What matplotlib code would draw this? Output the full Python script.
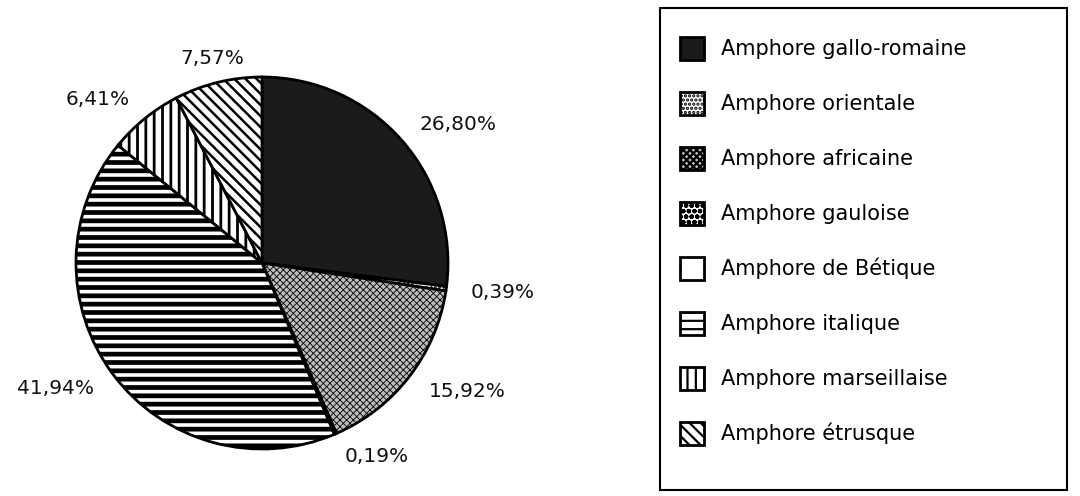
import numpy as np
import matplotlib
matplotlib.use("Agg")
import matplotlib.pyplot as plt
from matplotlib.patches import Rectangle

# amphora types, clockwise from 12 o'clock
names = ["Amphore gallo-romaine", "Amphore orientale", "Amphore africaine",
         "Amphore gauloise", "Amphore de Bétique", "Amphore italique",
         "Amphore marseillaise", "Amphore étrusque"]
shares = [26.80, 0.39, 15.92, 0.19, 0.0, 41.94, 6.41, 7.57]

faces = ["#1b1b1b", "white", "#bdbdbd", "white", "white", "white", "white", "white"]
hatches = [None, "....", "xxxxx", "ooo", None, "--", "||", "\\\\\\"]
hatch_lw = [1, 1.2, 0.6, 1.0, 1, 3.4, 2.0, 1.8]

plt.rcParams["font.family"] = ["DejaVu Sans"]
plt.rcParams["hatch.linewidth"] = 1.6

fig = plt.figure(figsize=(10.8, 4.96), dpi=100)
ax = fig.add_axes([76 / 1080, 47 / 496, 372 / 1080, 372 / 496])

labels = [("%.2f%%" % v).replace(".", ",") if v > 0 else "" for v in shares]
wedges, texts = ax.pie(shares, labels=labels, startangle=90, counterclock=False,
                       colors=faces, labeldistance=1.13,
                       wedgeprops=dict(edgecolor="black", linewidth=2),
                       textprops=dict(fontsize=14.5, color="#111111"))
for w, h, lw in zip(wedges, hatches, hatch_lw):
    if h:
        w.set_hatch(h)
        if hasattr(w, "set_hatch_linewidth"):
            w.set_hatch_linewidth(lw)
# 7,57% sits centred above the pie
texts[7].set_horizontalalignment("center")
ax.set_xlim(-1, 1)
ax.set_ylim(-1, 1)
ax.set_aspect("equal")

# legend box
fig.patches.append(Rectangle((660 / 1080, 6 / 496), 407 / 1080, 482 / 496,
                             transform=fig.transFigure, fill=False,
                             edgecolor="black", linewidth=1.5))
leg = fig.legend(wedges, names, loc="upper left", bbox_to_anchor=(680 / 1080, 1 - 37 / 496),
                 frameon=False, fontsize=15, handlelength=1.15, handleheight=1.3,
                 handletextpad=0.8, labelspacing=1.55, borderpad=0, borderaxespad=0)

fig.savefig("out.png", dpi=100, facecolor="white")
